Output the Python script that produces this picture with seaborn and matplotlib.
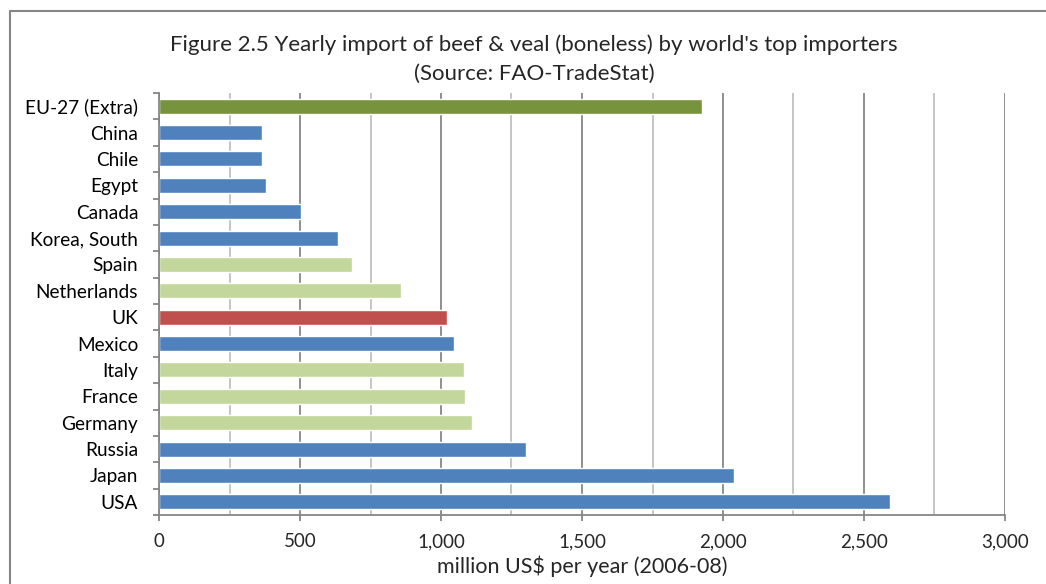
import matplotlib
matplotlib.use("Agg")
import matplotlib.pyplot as plt
from matplotlib.ticker import MultipleLocator, FuncFormatter
from matplotlib.lines import Line2D
import seaborn as sns
import pandas as pd

# ── Data (top to bottom, as drawn) ───────────────────────────
countries = ["EU-27 (Extra)", "China", "Chile", "Egypt", "Canada", "Korea, South",
             "Spain", "Netherlands", "UK", "Mexico", "Italy", "France", "Germany",
             "Russia", "Japan", "USA"]
imports = [1926, 365, 365, 381, 502, 636, 684, 857, 1023, 1046, 1081, 1085, 1110,
           1301, 2039, 2593]
groups = ["EU-27", "Other", "Other", "Other", "Other", "Other", "EU member",
          "EU member", "UK", "Other", "EU member", "EU member", "EU member",
          "Other", "Other", "Other"]

group_colors = {"EU-27": "#77933C", "Other": "#4F81BD",
                "EU member": "#C3D69B", "UK": "#C0504D"}

df = pd.DataFrame({"country": countries, "value": imports, "group": groups})

sns.set_theme(style="white")
plt.rcParams["font.family"] = ["Lato", "DejaVu Sans"]

fig = plt.figure(figsize=(10.46, 5.84), dpi=100)
ax = fig.add_axes([159 / 1046, 1 - 515 / 584, (1005 - 159) / 1046, (515 - 93) / 584])

sns.barplot(data=df, x="value", y="country", hue="group", palette=group_colors,
            order=countries, dodge=False, width=0.57, legend=False, ax=ax,
            saturation=1)

grey = "#868686"
ax.set_xlim(0, 3000)
ax.set_ylim(len(countries) - 0.5, -0.5)
ax.xaxis.set_major_locator(MultipleLocator(500))
ax.xaxis.set_minor_locator(MultipleLocator(250))
ax.xaxis.set_major_formatter(FuncFormatter(lambda v, p: f"{int(v):,}"))
ax.grid(axis="x", which="major", color=grey, linewidth=1.3)
ax.grid(axis="x", which="minor", color="#C0C0C0", linewidth=1.3)
ax.grid(axis="y", visible=False)
ax.set_axisbelow(True)

for side in ["top", "right"]:
    ax.spines[side].set_visible(False)
for side in ["left", "bottom"]:
    ax.spines[side].set_color(grey)
    ax.spines[side].set_linewidth(1.3)

# category boundary ticks on the y axis (Excel style)
ax.set_yticks([i - 0.5 for i in range(len(countries) + 1)], minor=True)
ax.tick_params(axis="y", which="major", length=0, pad=15, labelsize=13.7,
               colors="black")
ax.tick_params(axis="y", which="minor", length=4, width=1.3, color=grey,
               direction="out", left=True)
ax.tick_params(axis="x", which="major", length=4, width=1.3, color=grey,
               direction="out", bottom=True, labelsize=13.5, pad=9)
ax.tick_params(axis="x", which="minor", length=0)

ax.set_ylabel("")
ax.set_xlabel("million US$ per year (2006-08)", fontsize=15.5, labelpad=4)

fig.text(534 / 1046, 1 - 45 / 584, "Figure 2.5 Yearly import of beef & veal (boneless) by world's top importers",
         ha="center", va="center", fontsize=16)
fig.text(534 / 1046, 1 - 74 / 584, "(Source: FAO-TradeStat)",
         ha="center", va="center", fontsize=16)

# chart border (cropped at right and bottom)
fig.add_artist(Line2D([10 / 1046, 1], [1 - 11 / 584, 1 - 11 / 584],
                      transform=fig.transFigure, color=grey, linewidth=1.5))
fig.add_artist(Line2D([10 / 1046, 10 / 1046], [0, 1 - 11 / 584],
                      transform=fig.transFigure, color=grey, linewidth=1.5))

fig.savefig("out.png", dpi=100)
